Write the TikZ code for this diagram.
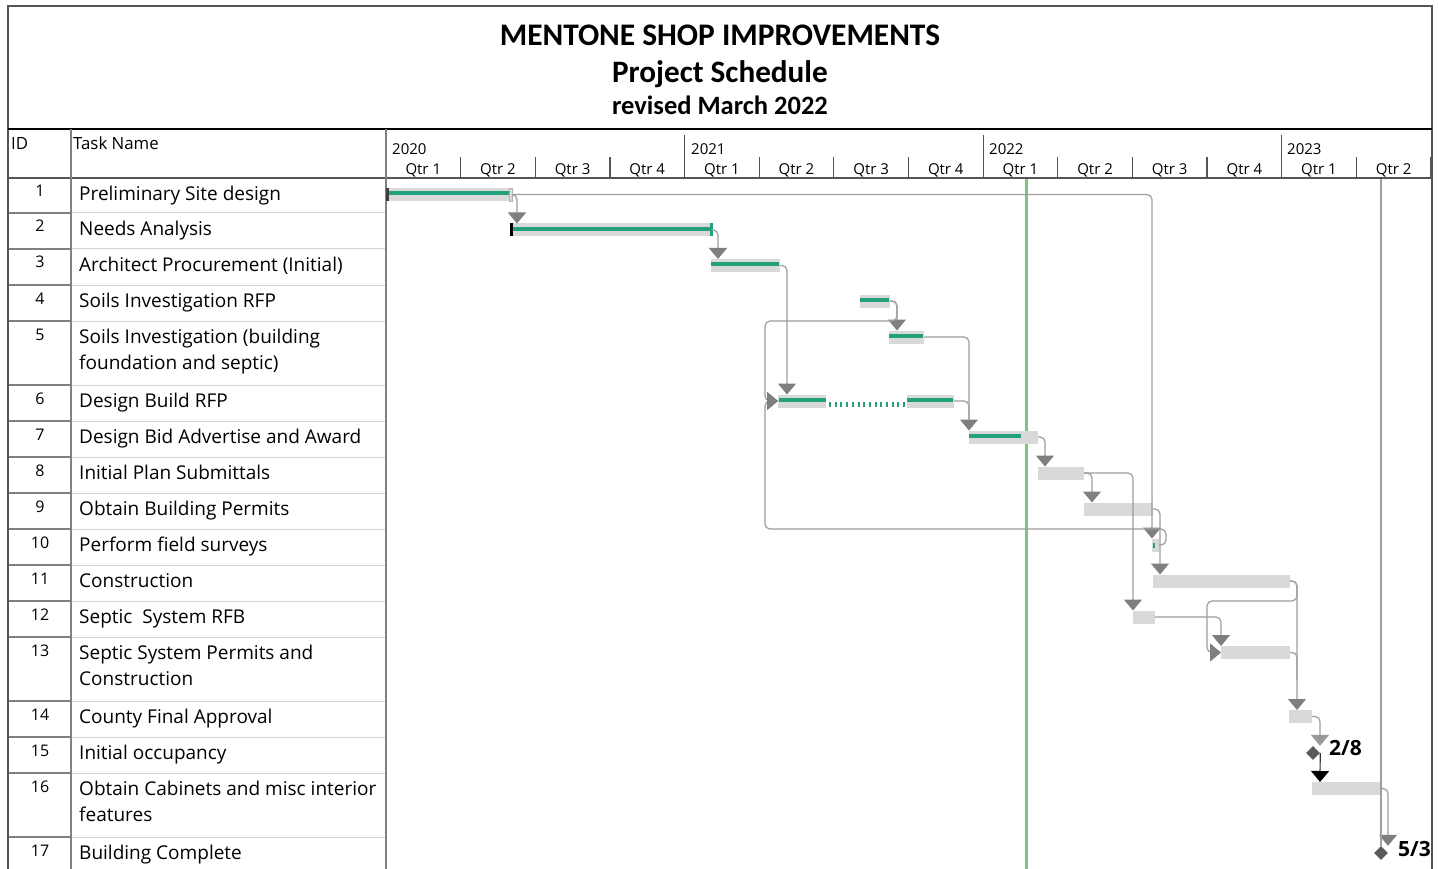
\documentclass[tikz,border=0pt]{standalone}
\usepackage{fontspec}
\setmainfont{Open Sans}
\newfontfamily\titlefont{Carlito}
\usetikzlibrary{arrows.meta,shapes.geometric,calc}
\definecolor{bargray}{HTML}{D9D9D9}
\definecolor{prog}{HTML}{23A07C}
\definecolor{linkc}{HTML}{9E9E9E}
\definecolor{tipc}{HTML}{7F7F7F}
\definecolor{tipl}{HTML}{999999}
\definecolor{statc}{HTML}{7DC67E}
\definecolor{framec}{HTML}{555555}
\definecolor{idsepc}{HTML}{808080}
\definecolor{tasksepc}{HTML}{D4D4D4}
\definecolor{milec}{HTML}{5A5A5A}
\tikzset{
  bar/.style={fill=bargray, draw=none, minimum height=13pt, inner sep=0pt, outer sep=0pt, anchor=west},
  progbar/.style={draw=prog, line width=4pt},
  link/.style={draw=linkc, line width=1.2pt, rounded corners=5pt},
  tipd/.style={-{Triangle[length=11pt,width=18pt,color=tipc]}},
  tiplt/.style={-{Triangle[length=11pt,width=18pt,color=tipl]}},
  tipblk/.style={-{Triangle[length=11pt,width=18pt,color=black]}},
  mile/.style={diamond, fill=milec, draw=none, minimum width=14pt, minimum height=14pt, inner sep=0pt},
  task/.style={anchor=base west, inner sep=0pt, align=left, font=\fontsize{19}{26}\selectfont},
  idtxt/.style={anchor=base, inner sep=0pt, font=\fontsize{16}{19}\selectfont},
  hdrtxt/.style={anchor=base west, inner sep=0pt, font=\fontsize{16.8}{20}\selectfont},
  tltxt/.style={anchor=base, inner sep=0pt, font=\fontsize{15}{18}\selectfont},
  yrtxt/.style={anchor=base west, inner sep=0pt, font=\fontsize{15}{18}\selectfont},
  mtxt/.style={anchor=base west, inner sep=0pt, font=\bfseries\fontsize{21}{24}\selectfont},
}
\begin{document}
\begin{tikzpicture}[x=1pt,y=-1pt]
\useasboundingbox (0,0) rectangle (1438,869);
\fill[white] (0,0) rectangle (1438,869);
% title
\node[anchor=base, inner sep=0pt, font=\titlefont\bfseries\fontsize{31.4}{36}\selectfont] (title) at (720,46) {MENTONE SHOP IMPROVEMENTS};
\node[anchor=base, inner sep=0pt, font=\titlefont\bfseries\fontsize{31.2}{36}\selectfont] (sub) at (720,82.5) {Project Schedule};
\node[anchor=base, inner sep=0pt, font=\titlefont\bfseries\fontsize{26.5}{30}\selectfont] (rev) at (720,114.5) {revised March 2022};
% grid
\foreach \y in {213,249,285,321,385,421,457,493,529,565,601,637,701,737,773,837}{
  \draw[idsepc, line width=1.6pt] (8,\y) -- (71,\y);
  \draw[tasksepc, line width=1pt] (71,\y) -- (386,\y);
}
\draw[framec, line width=1.5pt] (8,869) -- (8,6) -- (1432,6) -- (1432,869);
\draw[black, line width=2.5pt] (8,129) -- (1432,129);
\draw[framec, line width=1.3pt] (8,178) -- (1432,178);
\draw[idsepc, line width=2pt] (71,129) -- (71,869);
\draw[idsepc, line width=1.5pt] (386,129) -- (386,869);
% timescale
\foreach \i in {1,2,3,5,6,7,9,10,11,13,14}{
  \draw[framec, line width=1.2pt] ({386+74.64*\i},157) -- ({386+74.64*\i},178);
}
\foreach \i in {4,8,12}{
  \draw[framec, line width=1.2pt] ({386+74.64*\i},135) -- ({386+74.64*\i},178);
}
\node[hdrtxt] (hid) at (11,150) {ID};
\node[hdrtxt] (hname) at (73,150) {Task Name};
\node[yrtxt] (y20) at (392,155) {2020};
\node[yrtxt] (y21) at (691,155) {2021};
\node[yrtxt] (y22) at (989,155) {2022};
\node[yrtxt] (y23) at (1287,155) {2023};
\foreach \i/\q in {0/1,1/2,2/3,3/4,4/1,5/2,6/3,7/4,8/1,9/2,10/3,11/4,12/1,13/2}{
  \node[tltxt] (q\i) at ({386+74.64*\i+37.3},175) {Qtr \q};
}
% table text
\foreach \n/\t in {1/178,2/213,3/249,4/285,5/321,6/385,7/421,8/457,9/493,10/529,11/565,12/601,13/637,14/701,15/737,16/773,17/837}{
  \node[idtxt] (id\n) at (40,\t+19) {\n};
}
\node[task] (t1) at (79,200.5) {Preliminary Site design};
\node[task] (t2) at (79,235.5) {Needs Analysis};
\node[task] (t3) at (79,271.5) {Architect Procurement (Initial)};
\node[task] (t4) at (79,307.5) {Soils Investigation RFP};
\node[task] (t5) at (79,369.5) {Soils Investigation (building\\foundation and septic)};
\node[task] (t6) at (79,407.5) {Design Build RFP};
\node[task] (t7) at (79,443.5) {Design Bid Advertise and Award};
\node[task] (t8) at (79,479.5) {Initial Plan Submittals};
\node[task] (t9) at (79,515.5) {Obtain Building Permits};
\node[task] (t10) at (79,551.5) {Perform field surveys};
\node[task] (t11) at (79,587.5) {Construction};
\node[task] (t12) at (79,623.5) {Septic\ \ System RFB};
\node[task] (t13) at (79,685.5) {Septic System Permits and\\Construction};
\node[task] (t14) at (79,723.5) {County Final Approval};
\node[task] (t15) at (79,759.5) {Initial occupancy};
\node[task] (t16) at (79,821.5) {Obtain Cabinets and misc interior\\features};
\node[task] (t17) at (79,859.5) {Building Complete};
% status date
\draw[statc, line width=3pt] (1026,179) -- (1026,869);
% bars
\node[bar, minimum width=126pt] (b1) at (386,194.5) {};
\node[bar, minimum width=202pt] (b2) at (510,230) {};
\node[bar, minimum width=69pt] (b3) at (711,265.5) {};
\node[bar, minimum width=30pt] (b4) at (860,301) {};
\node[bar, minimum width=35pt] (b5) at (889,337) {};
\node[bar, minimum width=48pt] (b6a) at (778,401) {};
\node[bar, minimum width=47pt] (b6b) at (907,401) {};
\node[bar, minimum width=69pt] (b7) at (969,437) {};
\node[bar, minimum width=46pt] (b8) at (1038,473) {};
\node[bar, minimum width=69pt] (b9) at (1084,509) {};
\node[bar, minimum width=7pt] (b10) at (1152,545) {};
\node[bar, minimum width=137pt] (b11) at (1153,581) {};
\node[bar, minimum width=22pt] (b12) at (1133,617) {};
\node[bar, minimum width=69pt] (b13) at (1221,652.5) {};
\node[bar, minimum width=23pt] (b14) at (1289,716.5) {};
\node[bar, minimum width=69pt] (b16) at (1312,788.5) {};
% progress
\draw[progbar] (386,193.5) -- (510,193.5);
\draw[progbar] (511,229) -- (711,229);
\draw[progbar] (711,264.5) -- (779,264.5);
\draw[progbar] (860,300) -- (889,300);
\draw[progbar] (889,336) -- (923,336);
\draw[progbar] (779,400) -- (826,400);
\draw[progbar] (907,400) -- (953,400);
\draw[draw=prog, line width=5pt, dash pattern=on 2pt off 3.7pt] (829,404) -- (907,404);
\draw[progbar] (969,436) -- (1021,436);
\fill[prog] (1152.5,542.5) rectangle (1155,547.5);
% end markers
\fill[black!75] (386,188) rectangle (388.5,201);
\draw[gray!60, line width=0.8pt] (509.5,188) rectangle (512.5,201);
\fill[black] (509.5,223.5) rectangle (512.5,236.5);
\fill[prog] (709.5,223) rectangle (712.5,236.5);
% milestones
\node[mile] (m15) at (1313,753) {};
\node[mile] (m17) at (1381,853) {};
\node[mtxt] (l15) at (1329,755.5) {2/8};
\node[mtxt] (l17) at (1398,856) {5/3};
\coordinate (top17) at (1381,179);
% links
\draw[link,tipd] (b1.east) -| ($(b2.north west)+(7,0)$);
\draw[link,tipd] (b1.east) -| (b10.north west);
\draw[link,tipd] (b2.east) -| ($(b3.north west)+(7,0)$);
\draw[link,tipd] (b3.east) -| ($(b6a.north west)+(9,0)$);
\draw[link,tipd] (b4.east) -| ($(b5.north west)+(8,0)$);
\draw[link,tipd] (b4.east) -| (897,321) -| (765,380) |- (b6a.west);
\draw[link,tipd] (b5.east) -| (b7.north west);
\draw[link] (b6b.east) -| ($(b7.north west)+(0,-12)$);
\draw[link,tipd] (b10.east) -- ++(7,0) |- (765,529) |- (b6a.west);
\draw[link,tipd] (b7.east) -| ($(b8.north west)+(7,0)$);
\draw[link,tipd] (b8.east) -| ($(b9.north west)+(8,0)$);
\draw[link,tipd] (b8.east) -| (b12.north west);
\draw[link,tipd] (b9.east) -| ($(b11.north west)+(7,0)$);
\draw[link,tipd] (b11.east) -| ($(b14.north west)+(8,0)$);
\draw[link,tipd] (b11.east) -| (1297,601) -| (1207,640) |- (b13.west);
\draw[link,tipd] (b12.east) -| (b13.north west);
\draw[link] (b13.east) -| (1297,680);
\draw[link,tiplt] (b14.east) -| ($(m15.north)+(7,0)$);
\draw[link,draw=black!80,tipblk] (m15.east) -- ($(b16.north west)+(8,0)$);
\draw[link,tipd] (b16.east) -| ($(m17.north)+(7,0)$);
\draw[link] (top17) -- (m17.north);
\end{tikzpicture}
\end{document}
